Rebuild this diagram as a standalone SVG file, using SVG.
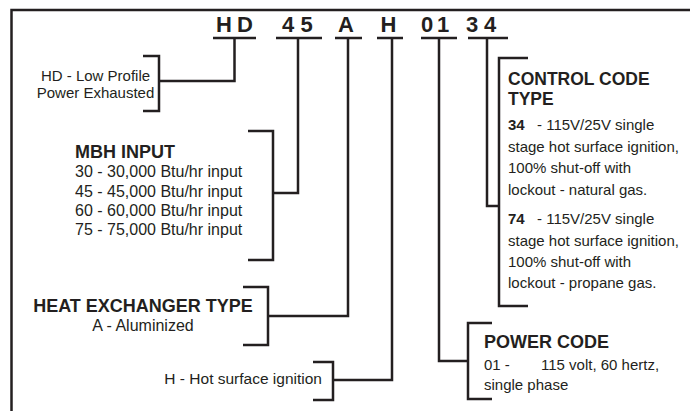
<svg xmlns="http://www.w3.org/2000/svg" width="690" height="411" viewBox="0 0 690 411">
<style>
.ln{fill:none;stroke:#231f20;stroke-width:2.5;stroke-linecap:butt;stroke-linejoin:miter}
text{font-family:"Liberation Sans",Arial,Helvetica,sans-serif;fill:#231f20}
.code{font-size:22px;font-weight:bold;text-anchor:middle}
.h{font-size:18px;font-weight:bold}
.b15{font-size:15px}
.b16{font-size:16px}
.bold{font-weight:bold}
</style>
<rect width="690" height="411" fill="#fff"/>
<path class="ln" d="M11.5,411 V10 H690"/>
<g id="model-code">
<text class="code" x="224" y="32">H</text>
<text class="code" x="245" y="32">D</text>
<text class="code" x="288" y="32">4</text>
<text class="code" x="306.5" y="32">5</text>
<text class="code" x="346" y="32">A</text>
<text class="code" x="388.5" y="32">H</text>
<text class="code" x="427" y="32">0</text>
<text class="code" x="443" y="32">1</text>
<text class="code" x="472" y="32">3</text>
<text class="code" x="490" y="32">4</text>
<path class="ln" d="M213,38 H256 M276,38 H322 M335,38 H362 M377,38 H403 M421,38 H457 M468,38 H508"/>
</g>
<g id="connectors">
<path class="ln" d="M234.5,38 V81 H159"/>
<path class="ln" d="M298,38 V193 H273"/>
<path class="ln" d="M348,38 V316 H268"/>
<path class="ln" d="M392,38 V380 H333"/>
<path class="ln" d="M439,38 V361 H468"/>
<path class="ln" d="M487,38 V206 H499"/>
</g>
<g id="hd">
<path class="ln" d="M143,56 H159 V111 H143"/>
<text class="b15" x="95.5" y="81" text-anchor="middle">HD - Low Profile</text>
<text class="b15" x="95.5" y="98" text-anchor="middle">Power Exhausted</text>
</g>
<g id="mbh">
<path class="ln" d="M248,131 H273 V260 H248"/>
<text class="h" x="75" y="158">MBH INPUT</text>
<text class="b16" x="75" y="177">30 - 30,000 Btu/hr input</text>
<text class="b16" x="75" y="197">45 - 45,000 Btu/hr input</text>
<text class="b16" x="75" y="216">60 - 60,000 Btu/hr input</text>
<text class="b16" x="75" y="235">75 - 75,000 Btu/hr input</text>
</g>
<g id="heat-exchanger">
<path class="ln" d="M243,287 H268 V345 H243"/>
<text class="h" x="143" y="312" text-anchor="middle">HEAT EXCHANGER TYPE</text>
<text class="b16" x="143" y="331" text-anchor="middle">A - Aluminized</text>
</g>
<g id="ignition">
<path class="ln" d="M313,362 H333 V400 H313"/>
<text class="b15" x="322" y="384" text-anchor="end" style="font-size:15.5px">H - Hot surface ignition</text>
</g>
<g id="power-code">
<path class="ln" d="M492,323 H468 V399 H492"/>
<text class="h" x="484" y="348">POWER CODE</text>
<text class="b15" x="484" y="370">01 -</text>
<text class="b15" x="541" y="370">115 volt, 60 hertz,</text>
<text class="b15" x="484" y="390">single phase</text>
</g>
<g id="control-code">
<path class="ln" d="M528,58 H499 V306 H528"/>
<text class="h" x="508" y="85" style="font-size:17.5px">CONTROL CODE</text>
<text class="h" x="508" y="105" style="font-size:17.5px">TYPE</text>
<text class="b15 bold" x="508" y="130">34</text>
<text class="b15" x="537" y="130">- 115V/25V single</text>
<text class="b15" x="508" y="152">stage hot surface ignition,</text>
<text class="b15" x="508" y="173">100% shut-off with</text>
<text class="b15" x="508" y="195">lockout - natural gas.</text>
<text class="b15 bold" x="508" y="224">74</text>
<text class="b15" x="537" y="224">- 115V/25V single</text>
<text class="b15" x="508" y="246">stage hot surface ignition,</text>
<text class="b15" x="508" y="267">100% shut-off with</text>
<text class="b15" x="508" y="288">lockout - propane gas.</text>
</g>
</svg>
